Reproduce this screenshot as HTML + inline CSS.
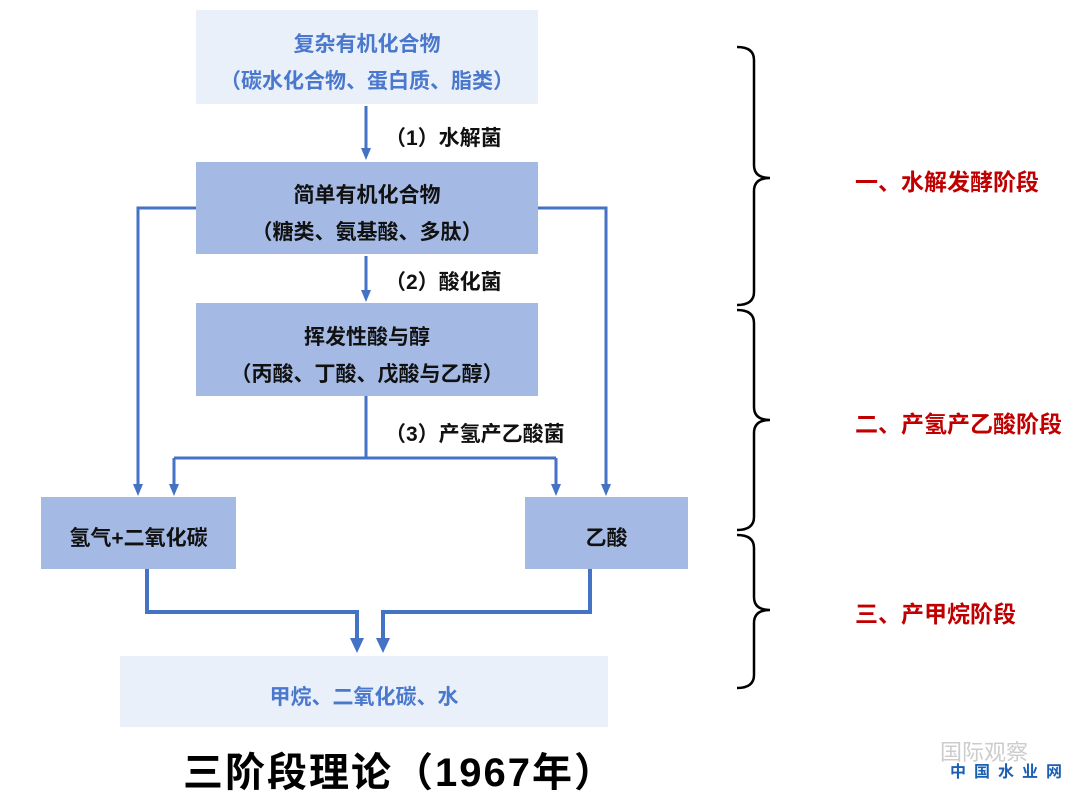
<!DOCTYPE html>
<html><head><meta charset="utf-8"><style>
body{margin:0;width:1080px;height:798px;background:#fff;position:relative;overflow:hidden;font-family:"Liberation Sans","Noto Sans CJK SC",sans-serif;font-weight:bold}
.b{position:absolute;display:flex;flex-direction:column;align-items:center;justify-content:center;text-align:center;box-sizing:border-box}
.lt{background:#eaf0fa;color:#4a78cc;font-size:21px}
.dk{background:#a4b9e4;color:#111;font-size:21px}
.b div{line-height:37px}
.two{padding-top:12px}
.l{position:absolute;font-size:21px;color:#111}
.r{position:absolute;font-size:23px;color:#c00000;left:855px}
</style></head><body>
<div class="b lt two" style="left:196px;top:10px;width:342px;height:94px"><div>复杂有机化合物</div><div>（碳水化合物、蛋白质、脂类）</div></div>
<div class="b dk two" style="left:196px;top:162px;width:342px;height:92px"><div>简单有机化合物</div><div>（糖类、氨基酸、多肽）</div></div>
<div class="b dk two" style="left:196px;top:303px;width:342px;height:93px"><div>挥发性酸与醇</div><div>（丙酸、丁酸、戊酸与乙醇）</div></div>
<div class="b dk" style="left:41px;top:497px;width:195px;height:72px;padding-top:8px">氢气+二氧化碳</div>
<div class="b dk" style="left:525px;top:497px;width:163px;height:72px;padding-top:8px">乙酸</div>
<div class="b lt" style="left:120px;top:656px;width:488px;height:71px;padding-top:8px">甲烷、二氧化碳、水</div>
<div class="l" style="left:385px;top:122px">（1）水解菌</div>
<div class="l" style="left:385px;top:266px">（2）酸化菌</div>
<div class="l" style="left:385px;top:418px">（3）产氢产乙酸菌</div>
<div class="r" style="top:163px">一、水解发酵阶段</div>
<div class="r" style="top:405px">二、产氢产乙酸阶段</div>
<div class="r" style="top:595px">三、产甲烷阶段</div>
<div style="position:absolute;left:183px;top:740px;font-size:40px;color:#000;letter-spacing:2px">三阶段理论（1967年）</div>
<div style="position:absolute;left:940px;top:735px;font-size:22px;color:#ccc;font-weight:normal">国际观察</div>
<div style="position:absolute;left:950px;top:758px;font-size:16px;color:#1a5fb4;letter-spacing:8px">中国水业网</div>
<svg style="position:absolute;left:0;top:0" width="1080" height="798">
<g stroke="#4472c4" stroke-width="3" fill="none">
<path d="M366,106 V150"/>
<path d="M366,256 V292"/>
<path d="M196,208 H138 V486"/>
<path d="M538,208 H606 V486"/>
<path d="M366,396 V458"/>
<path d="M174,458 H556"/>
<path d="M174,458 V486"/>
<path d="M556,458 V486"/>
</g>
<g stroke="#4472c4" stroke-width="4" fill="none">
<path d="M147,569 V612 H357 V640"/>
<path d="M590,569 V612 H383 V640"/>
</g>
<g fill="#4472c4">
<path d="M361,148 h10 l-5,12z"/>
<path d="M361,290 h10 l-5,12z"/>
<path d="M133,484 h10 l-5,12z"/>
<path d="M601,484 h10 l-5,12z"/>
<path d="M169,484 h10 l-5,12z"/>
<path d="M551,484 h10 l-5,12z"/>
<path d="M350,638 h14 l-7,15z"/>
<path d="M376,638 h14 l-7,15z"/>
</g>
<g stroke="#000" stroke-width="2.5" fill="none">
<path d="M737,47 Q754,47 754,60 V165 Q754,178 770,178 Q754,178 754,191 V292 Q754,305 737,305"/>
<path d="M737,310 Q754,310 754,323 V407 Q754,420 770,420 Q754,420 754,433 V517 Q754,530 737,530"/>
<path d="M737,535 Q754,535 754,548 V597 Q754,610 770,610 Q754,610 754,623 V675 Q754,688 737,688"/>
</g>
</svg>
</body></html>
